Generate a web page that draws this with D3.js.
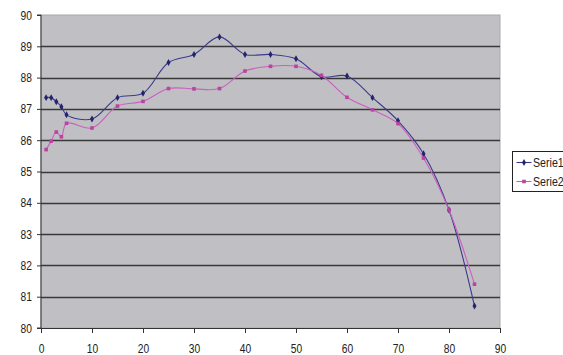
<!DOCTYPE html>
<html>
<head>
<meta charset="utf-8">
<script src="https://cdn.jsdelivr.net/npm/d3@7"></script>
<style>
  html, body { margin: 0; padding: 0; background: #fff; }
  svg { display: block; }
  text { font-family: "Liberation Sans Narrow", "Arial Narrow", "Liberation Sans", Arial, sans-serif; font-size: 12px; fill: #222; }
</style>
</head>
<body>
<svg id="chart" width="563" height="355"></svg>
<script>
// Measurement positions along the x axis
const xValues = [1, 2, 3, 4, 5, 10, 15, 20, 25, 30, 35, 40, 45, 50, 55, 60, 65, 70, 75, 80, 85];

// Series values
const serie1 = [87.36, 87.36, 87.23, 87.07, 86.81, 86.68, 87.36, 87.50, 88.48, 88.74, 89.30,
                88.74, 88.74, 88.60, 88.03, 88.05, 87.36, 86.62, 85.57, 83.77, 80.70];
const serie2 = [85.70, 85.97, 86.26, 86.11, 86.54, 86.39, 87.09, 87.24, 87.65, 87.64, 87.65,
                88.21, 88.36, 88.36, 88.07, 87.37, 86.97, 86.53, 85.43, 83.77, 81.40];

const seriesNames = ["Serie1", "Serie2"];
const xTicks = [0, 10, 20, 30, 40, 50, 60, 70, 80, 90];
const yTicks = [80, 81, 82, 83, 84, 85, 86, 87, 88, 89, 90];

// narrow lettering: glyphs are squeezed horizontally
const squeeze = 0.82;

const svg = d3.select("#chart");
const plot = { left: 41, right: 500, top: 15, bottom: 328 };

const x = d3.scaleLinear().domain([0, 90]).range([plot.left, plot.right]);
const y = d3.scaleLinear().domain([80, 90]).range([plot.bottom, plot.top]);

// Plot area background
svg.append("rect")
  .attr("x", plot.left).attr("y", plot.top)
  .attr("width", plot.right - plot.left).attr("height", plot.bottom - plot.top)
  .attr("fill", "#c0c0c4")
  .attr("stroke", "#a8a8a8").attr("stroke-width", 1);

// Horizontal gridlines
svg.append("g")
  .selectAll("line")
  .data(yTicks.filter(v => v > 80 && v < 90))
  .join("line")
  .attr("x1", plot.left).attr("x2", plot.right)
  .attr("y1", d => Math.round(y(d)) + 0.5).attr("y2", d => Math.round(y(d)) + 0.5)
  .attr("stroke", "#383838").attr("stroke-width", 1.3);

// Axes
const yAxis = svg.append("g")
  .attr("transform", `translate(${plot.left},0)`)
  .call(d3.axisLeft(y).tickValues(yTicks).tickSize(4).tickPadding(7).tickFormat(d3.format("d")));
const xAxis = svg.append("g")
  .attr("transform", `translate(0,${plot.bottom})`)
  .call(d3.axisBottom(x).tickValues(xTicks).tickSize(5).tickPadding(11).tickFormat(d3.format("d")));

[yAxis, xAxis].forEach(g => {
  g.select(".domain").attr("stroke", "#333");
  g.selectAll(".tick line").attr("stroke", "#333");
  g.selectAll(".tick text")
    .attr("fill", "#222")
    .attr("transform", `scale(${squeeze},1)`)
    .style("font-family", '"Liberation Sans Narrow", "Arial Narrow", "Liberation Sans", Arial, sans-serif')
    .style("font-size", "12.5px");
});
// the top of the y axis sits on the plot border
yAxis.select(".domain").attr("d", `M-4,${plot.top}H0V${plot.bottom}H-4`);

const data = [
  { name: seriesNames[0], values: serie1, line: "#3a3a8e", mark: "#23236e", shape: "diamond" },
  { name: seriesNames[1], values: serie2, line: "#cc5ec0", mark: "#b8449f", shape: "square" }
];

const line = d3.line()
  .x((d, i) => x(xValues[i]))
  .y(d => y(d))
  .curve(d3.curveCatmullRom.alpha(0.5));

const symbolFor = s => s === "diamond"
  ? d3.symbol().type(d3.symbolDiamond).size(14)
  : d3.symbol().type(d3.symbolSquare).size(13);

data.forEach(s => {
  svg.append("path")
    .datum(s.values)
    .attr("fill", "none")
    .attr("stroke", s.line)
    .attr("stroke-width", 1.1)
    .attr("d", line);
  svg.append("g")
    .selectAll("path")
    .data(s.values)
    .join("path")
    .attr("transform", (d, i) => `translate(${x(xValues[i])},${y(d)})`)
    .attr("d", symbolFor(s.shape)())
    .attr("fill", s.mark);
});

// Legend
const legend = svg.append("g").attr("transform", "translate(512.5,151.5)");
legend.append("rect")
  .attr("width", 70).attr("height", 40)
  .attr("fill", "#fff").attr("stroke", "#222").attr("stroke-width", 1);
data.forEach((s, i) => {
  const row = legend.append("g").attr("transform", `translate(0,${11 + i * 19})`);
  row.append("line").attr("x1", 4).attr("x2", 19).attr("y1", 0).attr("y2", 0)
    .attr("stroke", s.line).attr("stroke-width", 1.1);
  row.append("path").attr("transform", "translate(11.5,0)")
    .attr("d", symbolFor(s.shape)()).attr("fill", s.mark);
  row.append("text")
    .attr("transform", `translate(20.5,4.5) scale(${squeeze},1)`)
    .style("font-size", "13px")
    .text(s.name);
});
</script>
</body>
</html>
